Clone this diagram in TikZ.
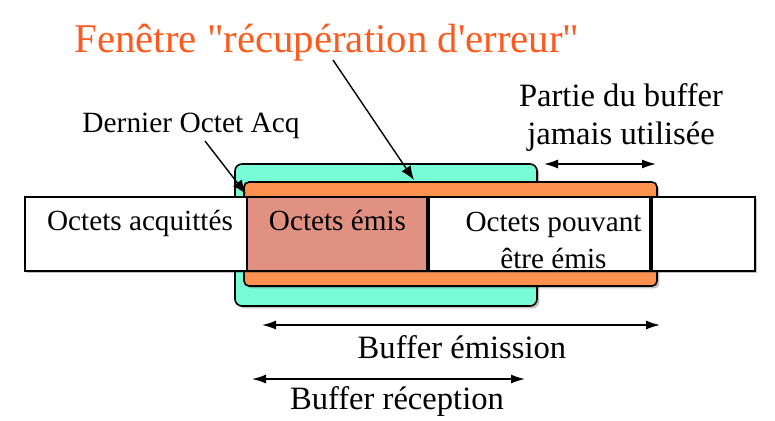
\documentclass[tikz,border=0pt]{standalone}
\usepackage{fontspec}
\setmainfont{Liberation Serif}[Ligatures=TeXOff]
\usetikzlibrary{calc}
\usetikzlibrary{arrows.meta}
\usetikzlibrary{shadows}

\definecolor{recvteal}{RGB}{120,252,214}
\definecolor{winorange}{RGB}{255,145,80}
\definecolor{sentred}{RGB}{224,145,130}
\definecolor{titleorange}{RGB}{255,90,30}

\begin{document}
\begin{tikzpicture}[x=0.5pt,y=-0.5pt,
  softshadow/.style={drop shadow={shadow xshift=1.2pt,shadow yshift=-1.2pt,opacity=0.35,fill=black!70}},
  frame/.style={draw=black,line width=0.8pt,anchor=north west,inner sep=0pt,outer sep=0pt,softshadow},
  cell/.style={frame,fill=white,minimum height=37pt},
  celltext/.style={anchor=base,inner sep=0pt,align=center,font=\fontsize{14.6}{18.5}\selectfont},
  annot/.style={anchor=base,inner sep=0pt,align=center,font=\fontsize{16.3}{19}\selectfont},
  tip/.style={-{Latex[length=7pt,width=5.5pt]},line width=0.7pt},
  span/.style={{Latex[length=7pt,width=4.5pt]}-{Latex[length=7pt,width=4.5pt]},line width=0.7pt}
]
\useasboundingbox (0,0) rectangle (775,420);

% buffers and window behind the byte stream
\node[frame,fill=recvteal,rounded corners=3.5pt,minimum width=151pt,minimum height=71pt] (recv) at (235,164) {};
\node[frame,fill=winorange,rounded corners=2.5pt,minimum width=206.5pt,minimum height=52pt] (win) at (244,182) {};

% the byte stream
\node[cell,minimum width=111pt] (acq) at (25,197) {};
\node[cell,fill=sentred,minimum width=90.5pt] (sent) at (acq.north east) {};
\node[cell,minimum width=111.5pt] (avail) at (sent.north east) {};
\node[cell,minimum width=52pt] (unused) at (avail.north east) {};
\draw[line width=1.6pt] (avail.north west) -- (avail.south west);
\draw[line width=1.6pt] (unused.north west) -- (unused.south west);

% base of a two-line node is its last line
\node[celltext] (acqtxt) at ($(acq.north)+(4,33)$) {Octets acquittés};
\node[celltext] (senttxt) at ($(sent.north)+(0,33)$) {Octets émis};
\node[celltext] (availtxt) at ($(avail.north)+(14,71)$) {Octets pouvant\\être émis};

% labels
\node[annot,text=titleorange,font=\fontsize{20.4}{24}\selectfont] (title) at (327,52) {Fenêtre "récupération d'erreur"};
\node[annot,font=\fontsize{14.7}{18}\selectfont] (lastack) at (191,132) {Dernier Octet Acq};
\node[annot] (unusedtxt) at (621,144) {Partie du buffer\\jamais utilisée};
\node[annot] (sendtxt) at (462,358) {Buffer émission};
\node[annot] (recvtxt) at (397,409) {Buffer réception};

\coordinate (titlefoot) at (333,60);
\coordinate (wintop) at (414,180);
\coordinate (ackfoot) at (205,141);
\coordinate (ackpt) at (246,194);
\draw[tip] (titlefoot) -- (wintop);
\draw[tip] (ackfoot) -- (ackpt);

\coordinate (unusedL) at (544,164);
\coordinate (unusedR) at (656,164);
\coordinate (sendL) at (262,325);
\coordinate (sendR) at (660,325);
\coordinate (recvL) at (252,379);
\coordinate (recvR) at (525,379);
\draw[span] (unusedL) -- (unusedR);
\draw[span] (sendL) -- (sendR);
\draw[span] (recvL) -- (recvR);
\end{tikzpicture}
\end{document}
